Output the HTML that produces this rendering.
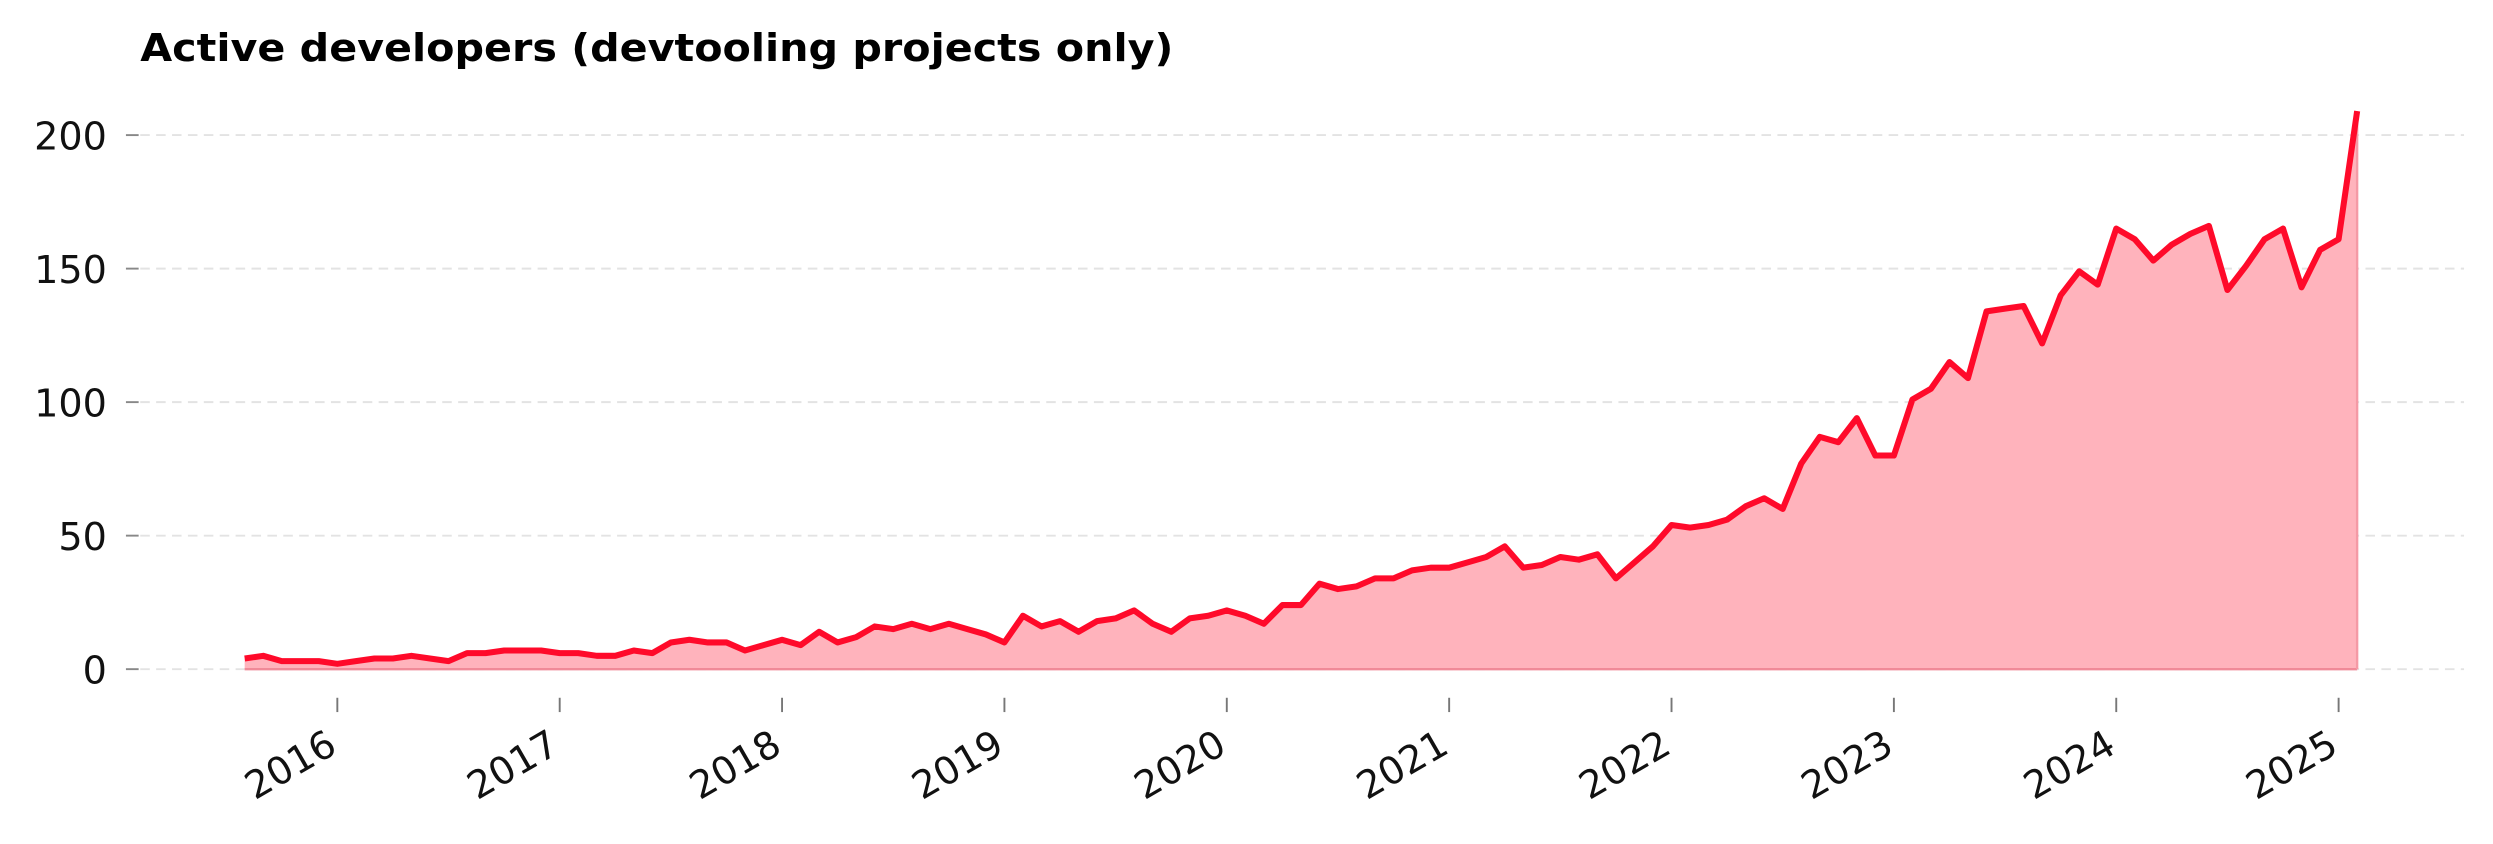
<!DOCTYPE html>
<html><head><meta charset="utf-8"><style>html,body{margin:0;padding:0;background:#fff}svg{display:block}</style></head>
<body>
<svg width="2493" height="844" viewBox="0 0 1568 531" xmlns="http://www.w3.org/2000/svg" font-family="DejaVu Sans, Liberation Sans, sans-serif">
<text x="88" y="38.5" font-size="24" font-weight="bold" fill="#000" textLength="650" lengthAdjust="spacingAndGlyphs">Active developers (devtooling projects only)</text>
<g id="grid"></g><g id="series"></g><g id="xaxis"></g><g id="yaxis"></g>
</svg>
<script>
const startYear = 2015, startMonth = 8;
const values = [4,5,3,3,3,
2,3,4,4,5,4,3,6,6,7,7,7,
6,6,5,5,7,6,10,11,10,10,7,9,
11,9,14,10,12,16,15,17,15,17,15,13,
10,20,16,18,14,18,19,22,17,14,19,20,
22,20,17,24,24,32,30,31,34,34,37,38,
38,40,42,46,38,39,42,41,43,34,40,46,
54,53,54,56,61,64,60,77,87,85,94,80,
80,101,105,115,109,134,135,136,122,140,149,144,
165,161,153,159,163,166,142,151,161,165,143,157,
161,209];
const yTicks = [0,50,100,150,200];
const xTickYears = [2016,2017,2018,2019,2020,2021,2022,2023,2024,2025];

const NS = "http://www.w3.org/2000/svg";
function mk(tag, attrs, parent){const e=document.createElementNS(NS,tag);for(const k in attrs)e.setAttribute(k,attrs[k]);parent.appendChild(e);return e;}
const y = v => 421 - v*1.68;
const xm = m => 212 + (m/12)*139.9;
const xi = i => xm(i + (startYear-2016)*12 + (startMonth-1));

const grid=document.getElementById('grid'), yaxis=document.getElementById('yaxis'), xaxis=document.getElementById('xaxis'), series=document.getElementById('series');
yTicks.forEach(t=>{
  const l=mk('line',{x1:88,x2:1550,y1:y(t),y2:y(t),stroke:'#e3e3e3','stroke-width':1.2,'stroke-dasharray':'6,4'},grid);
  
  
  const tk=mk('line',{x1:79,x2:87,y1:y(t),y2:y(t),stroke:'#888','stroke-width':1.2},yaxis);
  
  
  const tx=mk('text',{x:67,y:y(t)+9,'text-anchor':'end','font-size':24,fill:'#111'},yaxis);
  tx.textContent=t;
  
  
});
xTickYears.forEach(yr=>{
  const x=xm((yr-2016)*12);
  const tk=mk('line',{x1:x,x2:x,y1:439,y2:448,stroke:'#777','stroke-width':1.2},xaxis);
  
  
  const tx=mk('text',{x:x+1,y:473,'text-anchor':'end','font-size':24,fill:'#111',transform:`rotate(-30 ${x+1} 473)`},xaxis);
  tx.textContent=yr;
  
  
});
let d='';values.forEach((v,i)=>{d+=(i?'L':'M')+xi(i).toFixed(2)+','+y(v).toFixed(2);});
const last=values.length-1;
const area=mk('path',{d:d+`L${xi(last)},${y(0)}L${xi(0)},${y(0)}Z`,fill:'#ffb3bc',stroke:'none'},series);


const base=mk('line',{x1:xi(0),x2:xi(last),y1:y(0),y2:y(0),stroke:'#f08a98','stroke-width':1.5},series);


const edge=mk('line',{x1:xi(last),x2:xi(last),y1:y(values[last]),y2:y(0),stroke:'#f59aa6','stroke-width':1.5},series);


const line=mk('path',{d:d,fill:'none',stroke:'#ff0a2a','stroke-width':3.8,'stroke-linejoin':'round'},series);


</script>
</body></html>
